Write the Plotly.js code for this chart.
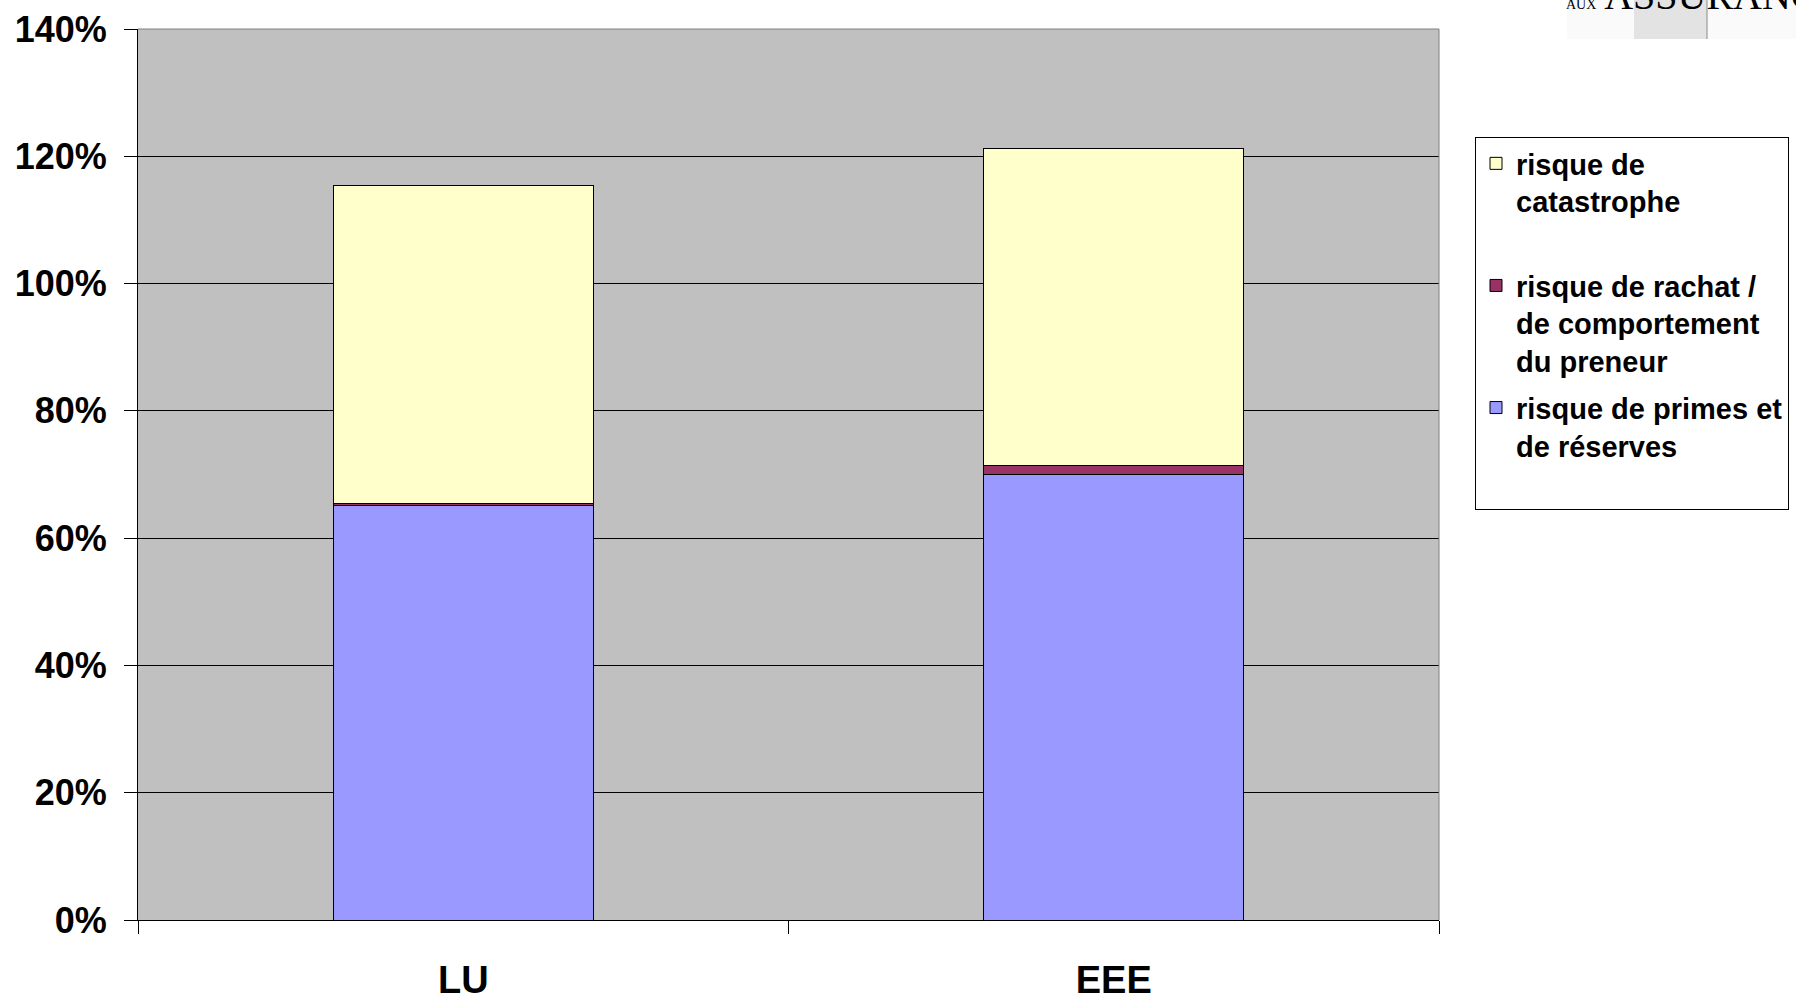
<!DOCTYPE html>
<html>
<head>
<meta charset="utf-8">
<script src="https://cdn.plot.ly/plotly-3.0.1.min.js"></script>
<style>
  html, body { margin: 0; padding: 0; background: #ffffff; }
  #chart { width: 1796px; height: 1000px; }
</style>
</head>
<body>
<div id="chart"></div>
<script>
// Categories on the x axis
const categories = ['LU', 'EEE'];

// Stacked components (% of requirement)
const primesReserves = [65.2, 70.0];
const rachatComportement = [0.3, 1.4];
const catastrophe = [49.9, 49.8];

// Legend labels
const namePrimes = 'risque de primes et<br>de réserves<br> ';
const nameRachat = 'risque de rachat /<br>de comportement<br>du preneur';
const nameCatastrophe = 'risque de<br>catastrophe<br> ';

// Y axis ticks
const yTickValues = [0, 20, 40, 60, 80, 100, 120, 140];
const yTickLabels = ['0%', '20%', '40%', '60%', '80%', '100%', '120%', '140%'];

const barLine = { color: '#000000', width: 1 };

const traces = [
  {
    type: 'bar', x: categories, y: primesReserves, name: namePrimes,
    legendgroup: 'a', legendrank: 3,
    marker: { color: '#9999FF', line: barLine }
  },
  {
    type: 'bar', x: categories, y: rachatComportement, name: nameRachat,
    legendgroup: 'b', legendrank: 2,
    marker: { color: '#993366', line: barLine }
  },
  {
    type: 'bar', x: categories, y: catastrophe, name: nameCatastrophe,
    legendgroup: 'c', legendrank: 1,
    marker: { color: '#FFFFCC', line: barLine }
  }
];

const L = 138, R = 357, T = 29, B = 80, W = 1796, H = 1000;
const pw = W - L - R, ph = H - T - B;
const px = v => (v - L) / pw;      // pixel x -> paper x
const py = v => (H - B - v) / ph;  // pixel y -> paper y

const layout = {
  width: W, height: H,
  margin: { l: L, r: R, t: T, b: B, pad: 0, autoexpand: false },
  paper_bgcolor: '#ffffff',
  plot_bgcolor: '#C0C0C0',
  barmode: 'stack',
  bargap: 0.6,
  showlegend: true,
  font: { family: 'Liberation Sans, Arial, sans-serif', color: '#000000' },
  xaxis: {
    type: 'category',
    showline: true, linecolor: '#000000', linewidth: 1,
    ticks: 'outside', ticklen: 13, tickcolor: '#000000', tickwidth: 1,
    tickson: 'boundaries',
    showgrid: false, zeroline: false,
    ticklabelstandoff: 26,
    tickfont: { family: 'Liberation Sans, Arial, sans-serif', size: 38, weight: 'bold', color: '#000000' }
  },
  yaxis: {
    range: [0, 140],
    tickvals: yTickValues, ticktext: yTickLabels,
    showline: true, linecolor: '#000000', linewidth: 1,
    ticks: 'outside', ticklen: 13, tickcolor: '#000000', tickwidth: 1,
    showgrid: true, gridcolor: '#000000', gridwidth: 1,
    zeroline: false,
    ticklabelstandoff: 10,
    tickfont: { family: 'Liberation Sans, Arial, sans-serif', size: 36, weight: 'bold', color: '#000000' }
  },
  legend: {
    x: px(1475), y: py(137), xanchor: 'left', yanchor: 'top',
    bgcolor: '#ffffff', bordercolor: '#000000', borderwidth: 1,
    traceorder: 'grouped', tracegroupgap: 6,
    valign: 'top',
    font: { family: 'Liberation Sans, Arial, sans-serif', size: 29, weight: 'bold', color: '#000000' }
  },
  shapes: [
    // plot-area frame on the top and right sides
    { type: 'line', xref: 'paper', yref: 'paper', x0: 0, x1: 1, y0: 1, y1: 1,
      line: { color: '#808080', width: 1 } },
    { type: 'line', xref: 'paper', yref: 'paper', x0: 1, x1: 1, y0: 0, y1: 1,
      line: { color: '#808080', width: 1 } },
    // header band in the top-right corner
    { type: 'rect', xref: 'paper', yref: 'paper', x0: px(1567), x1: px(1796), y0: py(39), y1: py(-2),
      fillcolor: '#FAFAFA', line: { width: 0 }, layer: 'below' },
    { type: 'rect', xref: 'paper', yref: 'paper', x0: px(1634), x1: px(1707), y0: py(39), y1: py(-2),
      fillcolor: '#E3E3E3', line: { width: 0 }, layer: 'below' },
    { type: 'line', xref: 'paper', yref: 'paper', x0: px(1707), x1: px(1707), y0: py(39), y1: py(0),
      line: { color: '#8A8A8A', width: 1 } }
  ],
  annotations: [
    {
      xref: 'paper', yref: 'paper', x: px(1564), y: py(20),
      xanchor: 'left', yanchor: 'bottom', showarrow: false,
      text: '<span style="font-size:14px">AUX</span> ASSURANCES',
      font: { family: 'Liberation Serif, Times New Roman, serif', size: 40, color: '#000000' }
    }
  ]
};

Plotly.newPlot('chart', traces, layout, { staticPlot: true, displayModeBar: false });
</script>
</body>
</html>
